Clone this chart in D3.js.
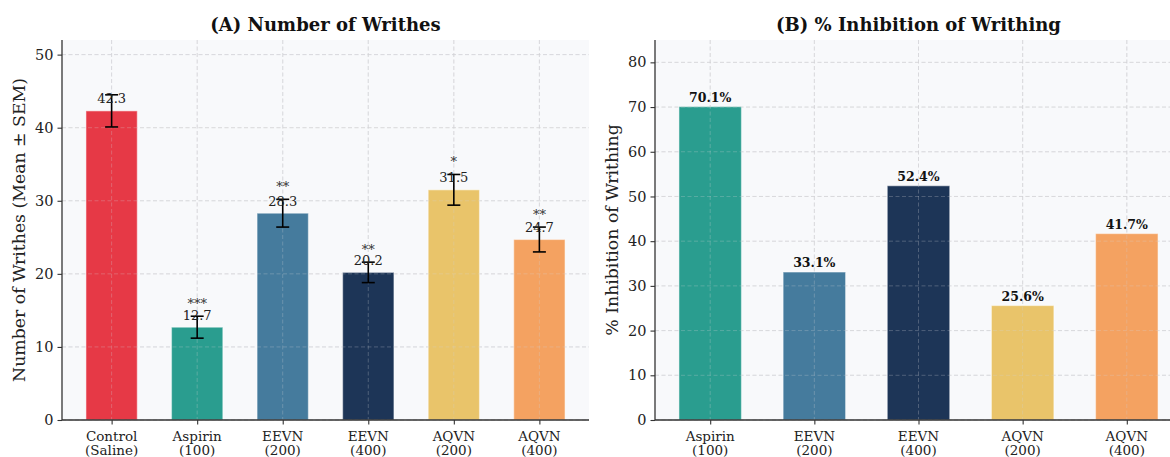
<!DOCTYPE html>
<html><head><meta charset="utf-8">
<script src="https://cdn.jsdelivr.net/npm/d3@7"></script>
<style>body{margin:0;background:#fff;} svg{display:block;font-family:"DejaVu Serif",serif;}</style>
</head><body>
<svg id="c" width="1170" height="457"></svg>
<script>
// Data
const groupsA = ["Control\n(Saline)", "Aspirin\n(100)", "EEVN\n(200)", "EEVN\n(400)", "AQVN\n(200)", "AQVN\n(400)"];
const meansA = [42.3, 12.7, 28.3, 20.2, 31.5, 24.7];
const semA = [2.2, 1.5, 1.9, 1.4, 2.1, 1.7];
const starsA = ["", "***", "**", "**", "*", "**"];
const colorsA = ["#e63946", "#2a9d8f", "#457b9d", "#1d3557", "#e9c46a", "#f4a261"];
const ticksA = [0, 10, 20, 30, 40, 50];

const groupsB = ["Aspirin\n(100)", "EEVN\n(200)", "EEVN\n(400)", "AQVN\n(200)", "AQVN\n(400)"];
const inhibB = [70.1, 33.1, 52.4, 25.6, 41.7];
const colorsB = ["#2a9d8f", "#457b9d", "#1d3557", "#e9c46a", "#f4a261"];
const ticksB = [0, 10, 20, 30, 40, 50, 60, 70, 80];

const svg = d3.select("#c");

function panel(opt) {
  const {left, right, top, bottom, n, ymax, ticks, title, ylabel, ylabelX, groups, values, colors} = opt;
  const x = d3.scaleLinear().domain([-0.3 - 0.05 * (n - 0.4), n - 0.7 + 0.05 * (n - 0.4)]).range([left, right]);
  const y = d3.scaleLinear().domain([0, ymax]).range([bottom, top]);
  const g = svg.append("g");
  g.append("rect").attr("x", left).attr("y", top).attr("width", right - left).attr("height", bottom - top).attr("fill", "#f8f9fb");
  // grid
  g.selectAll(".hg").data(ticks).join("line")
    .attr("x1", left).attr("x2", right).attr("y1", d => y(d)).attr("y2", d => y(d))
    .attr("stroke", "#d4d4d8").attr("stroke-width", 0.8).attr("stroke-dasharray", "4,2.5");
  g.selectAll(".vg").data(d3.range(n)).join("line")
    .attr("x1", d => x(d)).attr("x2", d => x(d)).attr("y1", top).attr("y2", bottom)
    .attr("stroke", "#d4d4d8").attr("stroke-width", 0.8).attr("stroke-dasharray", "4,2.5");
  const bw = x(0.3) - x(-0.3);
  g.selectAll(".bar").data(values).join("rect")
    .attr("x", (d, i) => x(i) - bw / 2).attr("width", bw)
    .attr("y", d => y(d)).attr("height", d => y(0) - y(d))
    .attr("fill", (d, i) => colors[i])
    .attr("stroke", "#ffffff").attr("stroke-opacity", 0.45).attr("stroke-width", 1.2);
  g.selectAll(".vg2").data(d3.range(n)).join("line")
    .attr("x1", d => x(d)).attr("x2", d => x(d)).attr("y1", top).attr("y2", bottom)
    .attr("stroke", "#d4d4d8").attr("stroke-opacity", 0.35).attr("stroke-width", 0.8).attr("stroke-dasharray", "4,2.5");
  g.selectAll(".hg2").data(ticks).join("line")
    .attr("x1", left).attr("x2", right).attr("y1", d => y(d)).attr("y2", d => y(d))
    .attr("stroke", "#d4d4d8").attr("stroke-opacity", 0.35).attr("stroke-width", 0.8).attr("stroke-dasharray", "4,2.5");
  // axes
  const yAxis = d3.axisLeft(y).tickValues(ticks).tickSize(4.5).tickPadding(4).tickFormat(d3.format("d"));
  const ya = g.append("g").attr("transform", `translate(${left},0)`).call(yAxis);
  ya.select(".domain").attr("d", `M0,${bottom}V${top}`);
  const xAxis = d3.axisBottom(x).tickValues(d3.range(n)).tickSize(4.5).tickFormat(() => "");
  const xa = g.append("g").attr("transform", `translate(0,${bottom})`).call(xAxis);
  xa.select(".domain").attr("d", `M${left},0H${right}`);
  [ya, xa].forEach(a => {
    a.selectAll(".domain").attr("stroke", "#333").attr("stroke-width", 1.3);
    a.selectAll(".tick line").attr("stroke", "#333").attr("stroke-width", 1.1);
  });
  ya.selectAll(".tick text").attr("font-size", 14.5).attr("fill", "#222").attr("font-family", "DejaVu Serif");
  groups.forEach((lab, i) => {
    const t = g.append("text").attr("text-anchor", "middle").attr("font-size", 13.5).attr("fill", "#222");
    lab.split("\n").forEach((s, k) => t.append("tspan").attr("x", x(i)).attr("y", bottom + 21 + k * 14).text(s));
  });
  g.append("text").attr("x", (left + right) / 2).attr("y", 31).attr("text-anchor", "middle")
    .attr("font-size", 18).attr("font-weight", "bold").attr("fill", "#111").text(title);
  g.append("text").attr("transform", `translate(${ylabelX},${(top + bottom) / 2}) rotate(-90)`)
    .attr("text-anchor", "middle").attr("font-size", 17.3).attr("fill", "#222").text(ylabel);
  return {g, x, y};
}

// Panel A
const A = panel({left: 62, right: 589, top: 40, bottom: 420, n: 6, ymax: 52, ticks: ticksA,
  title: "(A) Number of Writhes", ylabel: "Number of Writhes (Mean ± SEM)", ylabelX: 25,
  groups: groupsA, values: meansA, colors: colorsA});
meansA.forEach((m, i) => {
  const cx = A.x(i), s = semA[i];
  const eg = A.g.append("g").attr("stroke", "#000").attr("stroke-width", 1.6);
  eg.append("line").attr("x1", cx).attr("x2", cx).attr("y1", A.y(m - s)).attr("y2", A.y(m + s));
  eg.append("line").attr("x1", cx - 6.5).attr("x2", cx + 6.5).attr("y1", A.y(m - s)).attr("y2", A.y(m - s));
  eg.append("line").attr("x1", cx - 6.5).attr("x2", cx + 6.5).attr("y1", A.y(m + s)).attr("y2", A.y(m + s));
  A.g.append("text").attr("x", cx).attr("y", A.y(m) - 7.5).attr("text-anchor", "middle")
    .attr("font-size", 13).attr("fill", "#222").text(m.toFixed(1));
  if (starsA[i]) A.g.append("text").attr("x", cx).attr("y", A.y(m + s) - 8).attr("text-anchor", "middle")
    .attr("font-size", 13).attr("fill", "#333").text(starsA[i]);
});

// Panel B
const B = panel({left: 655, right: 1182, top: 40, bottom: 420, n: 5, ymax: 85, ticks: ticksB,
  title: "(B) % Inhibition of Writhing", ylabel: "% Inhibition of Writhing", ylabelX: 618,
  groups: groupsB, values: inhibB, colors: colorsB});
inhibB.forEach((v, i) => {
  B.g.append("text").attr("x", B.x(i)).attr("y", B.y(v) - 5).attr("text-anchor", "middle")
    .attr("font-size", 12.5).attr("font-weight", "bold").attr("fill", "#111").text(v.toFixed(1) + "%");
});
</script>
</body></html>
